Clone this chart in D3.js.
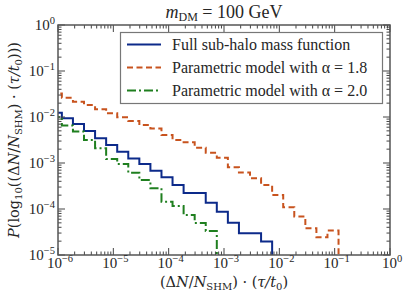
<!DOCTYPE html>
<html>
<head>
<meta charset="utf-8">
<script src="https://cdn.jsdelivr.net/npm/d3@7"></script>
<style>
  body { margin: 0; background: #fff; }
</style>
</head>
<body>
<div id="chart"></div>
<script>
// Bin edges, as log10 of (dN/N_SHM)*(tau/t0)
let binEdges = [-6.13, -5.93, -5.73, -5.53, -5.33, -5.13, -4.93, -4.73, -4.53, -4.33,
    -4.13, -3.93, -3.73, -3.53, -3.33, -3.13, -2.93, -2.73, -2.53, -2.33,
    -2.13, -1.93, -1.73, -1.53, -1.33, -1.13, -0.93];

// Histogram values for each series (one per bin, starting at the first edge)
let fullShmf = [0.0124, 0.00937, 0.00705, 0.00497, 0.00344, 0.00246, 0.00176, 0.00126, 0.00095, 0.00068,
    0.00049, 0.000333, 0.000223, 0.000223, 0.000137, 8.7e-5, 5.0e-5, 2.96e-5, 2.96e-5, 1.96e-5];
let alpha18 = [0.0324, 0.0263, 0.0215, 0.0182, 0.0147, 0.0120, 0.00984, 0.00818, 0.00670, 0.00562,
    0.00406, 0.00316, 0.00282, 0.00215, 0.00167, 0.00130, 0.00081, 0.00062, 0.000465, 0.000333,
    0.000202, 0.000109, 6.9e-5, 3.8e-5, 2.43e-5, 3.41e-5];
let alpha20 = [0.0100, 0.00653, 0.00484, 0.00316, 0.00209, 0.00122, 0.00095, 0.000615, 0.000427, 0.000282,
    0.000144, 0.000116, 7.4e-5, 4.97e-5, 3.33e-5];

let legendLabels = ["Full sub-halo mass function", "Parametric model with \u03b1 = 1.8", "Parametric model with \u03b1 = 2.0"];
let xTickExp = [-6, -5, -4, -3, -2, -1, 0];
let yTickExp = [-5, -4, -3, -2, -1, 0];

//*************************************************************************************
// SETUP

var width = 407;
var height = 299;
var plot = { left: 58, right: 390, top: 25, bottom: 255 };
var serif = "'Liberation Serif', 'DejaVu Serif', serif";
var wideSerif = "'DejaVu Serif', 'Liberation Serif', serif";

var svg = d3.select("#chart")
    .append("svg")
    .attr("width", width)
    .attr("height", height)
    .attr("font-family", serif)
    .style("font-family", serif);

var x = d3.scaleLog().domain([1e-6, 1]).range([plot.left, plot.right]);
var y = d3.scaleLog().domain([1e-5, 1]).range([plot.bottom, plot.top]);

svg.append("clipPath").attr("id", "clip")
    .append("rect")
    .attr("x", plot.left).attr("y", plot.top)
    .attr("width", plot.right - plot.left).attr("height", plot.bottom - plot.top);

//*************************************************************************************
// STEP HISTOGRAMS

let series = [
    { values: fullShmf, color: "#0c2a8a", dash: null },
    { values: alpha18, color: "#c8531e", dash: "6,3.5" },
    { values: alpha20, color: "#1f7f1f", dash: "9,3,2,3" }
];

var line = d3.line()
    .x(d => x(Math.pow(10, d[0])))
    .y(d => y(d[1]))
    .curve(d3.curveStepAfter);

series.forEach(s => {
    let pts = s.values.map((v, i) => [binEdges[i], v]);
    let last = binEdges[s.values.length];
    pts.push([last, s.values[s.values.length - 1]]);
    pts.push([last, 1e-6]);

    svg.append("path")
        .attr("clip-path", "url(#clip)")
        .attr("d", line(pts))
        .attr("fill", "none")
        .attr("stroke", s.color)
        .attr("stroke-width", 2)
        .attr("stroke-dasharray", s.dash);
});

//*************************************************************************************
// AXES FRAME AND TICKS

var tickColor = "#444";
var textColor = "#262626";

// minor tick positions
var xMinor = [];
var yMinor = [];
xTickExp.slice(0, -1).forEach(e => { for (let m = 2; m < 10; m++) xMinor.push(m * Math.pow(10, e)); });
yTickExp.slice(0, -1).forEach(e => { for (let m = 2; m < 10; m++) yMinor.push(m * Math.pow(10, e)); });

var ticks = svg.append("g").attr("stroke", tickColor).attr("stroke-width", 1);

function xTick(v, len) {
    let px = x(v);
    ticks.append("line").attr("x1", px).attr("x2", px).attr("y1", plot.bottom).attr("y2", plot.bottom - len);
    ticks.append("line").attr("x1", px).attr("x2", px).attr("y1", plot.top).attr("y2", plot.top + len);
}
function yTick(v, len) {
    let py = y(v);
    ticks.append("line").attr("y1", py).attr("y2", py).attr("x1", plot.left).attr("x2", plot.left + len);
    ticks.append("line").attr("y1", py).attr("y2", py).attr("x1", plot.right).attr("x2", plot.right - len);
}

xTickExp.forEach(e => xTick(Math.pow(10, e), 7));
xMinor.forEach(v => xTick(v, 3.5));
yTickExp.forEach(e => yTick(Math.pow(10, e), 7));
yMinor.forEach(v => yTick(v, 3.5));

svg.append("rect")
    .attr("x", plot.left).attr("y", plot.top)
    .attr("width", plot.right - plot.left).attr("height", plot.bottom - plot.top)
    .attr("fill", "none")
    .attr("stroke", "#555")
    .attr("stroke-width", 1.5);

// tick labels like 10^-6
function powerLabel(g, e) {
    g.append("tspan").text("10");
    g.append("tspan").attr("dy", -6).attr("font-size", 10.5).text(e < 0 ? "\u2212" + (-e) : e);
}

xTickExp.forEach(e => {
    let t = svg.append("text")
        .attr("x", x(Math.pow(10, e)) + 2)
        .attr("y", 268)
        .attr("text-anchor", "middle")
        .attr("font-size", 15)
        .attr("fill", textColor);
    powerLabel(t, e);
});

yTickExp.forEach(e => {
    let t = svg.append("text")
        .attr("x", 55)
        .attr("y", y(Math.pow(10, e)) + 5)
        .attr("text-anchor", "end")
        .attr("font-size", 15)
        .attr("fill", textColor);
    powerLabel(t, e);
});

//*************************************************************************************
// TITLE AND AXIS LABELS

var title = svg.append("text")
    .attr("x", (plot.left + plot.right) / 2)
    .attr("y", 18)
    .attr("text-anchor", "middle")
    .attr("font-size", 18)
    .attr("fill", textColor);
title.append("tspan").attr("font-style", "italic").text("m");
title.append("tspan").attr("dy", 3).attr("font-size", 12).text("DM");
title.append("tspan").attr("dy", -3).text(" = 100 GeV");

var xLabel = svg.append("text")
    .attr("x", (plot.left + plot.right) / 2)
    .attr("y", 287)
    .attr("text-anchor", "middle")
    .attr("font-family", wideSerif)
    .attr("font-size", 14.5)
    .attr("fill", textColor);
xLabel.append("tspan").text("(\u0394");
xLabel.append("tspan").attr("font-style", "italic").text("N");
xLabel.append("tspan").text("/");
xLabel.append("tspan").attr("font-style", "italic").text("N");
xLabel.append("tspan").attr("dy", 3).attr("font-size", 10).text("SHM");
xLabel.append("tspan").attr("dy", -3).text(") \u00b7 (");
xLabel.append("tspan").attr("font-style", "italic").text("\u03c4/t");
xLabel.append("tspan").attr("dy", 3).attr("font-size", 10).text("0");
xLabel.append("tspan").attr("dy", -3).text(")");

var yLabel = svg.append("text")
    .attr("transform", "translate(19," + ((plot.top + plot.bottom) / 2) + ") rotate(-90)")
    .attr("text-anchor", "middle")
    .attr("font-family", wideSerif)
    .attr("font-size", 14.5)
    .attr("fill", textColor);
yLabel.append("tspan").attr("font-style", "italic").text("P");
yLabel.append("tspan").text("(log");
yLabel.append("tspan").attr("dy", 3).attr("font-size", 10).text("10");
yLabel.append("tspan").attr("dy", -3).text("((\u0394");
yLabel.append("tspan").attr("font-style", "italic").text("N");
yLabel.append("tspan").text("/");
yLabel.append("tspan").attr("font-style", "italic").text("N");
yLabel.append("tspan").attr("dy", 3).attr("font-size", 10).text("SHM");
yLabel.append("tspan").attr("dy", -3).text(") \u00b7 (");
yLabel.append("tspan").attr("font-style", "italic").text("\u03c4/t");
yLabel.append("tspan").attr("dy", 3).attr("font-size", 10).text("0");
yLabel.append("tspan").attr("dy", -3).text(")))");

//*************************************************************************************
// LEGEND

var legend = svg.append("g");
legend.append("rect")
    .attr("x", 120.5).attr("y", 32.5)
    .attr("width", 262).attr("height", 71)
    .attr("fill", "#fff")
    .attr("stroke", "#777")
    .attr("stroke-width", 1.2);

series.forEach((s, i) => {
    let ly = 44.5 + i * 23;
    legend.append("line")
        .attr("x1", 127).attr("x2", 161)
        .attr("y1", ly).attr("y2", ly)
        .attr("stroke", s.color)
        .attr("stroke-width", 2)
        .attr("stroke-dasharray", s.dash);
    legend.append("text")
        .attr("x", 172)
        .attr("y", ly + 5)
        .attr("font-family", serif)
        .attr("font-size", 16)
        .attr("fill", textColor)
        .text(legendLabels[i]);
});
</script>
</body>
</html>
